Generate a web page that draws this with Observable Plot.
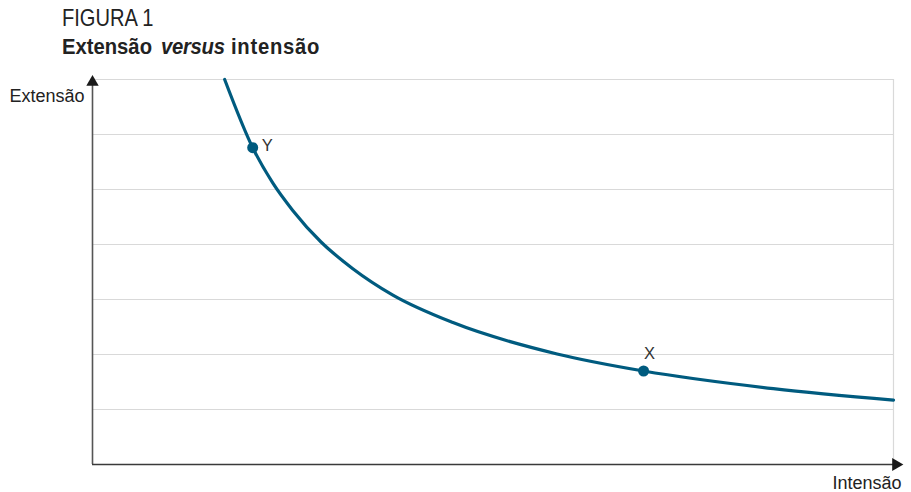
<!DOCTYPE html>
<html>
<head>
<meta charset="utf-8">
<script src="https://cdn.jsdelivr.net/npm/d3@7"></script>
<script src="https://cdn.jsdelivr.net/npm/@observablehq/plot@0.6"></script>
<style>
  body { margin: 0; background: #fff; font-family: "Liberation Sans", Arial, sans-serif; }
  #head { position: relative; width: 911px; height: 60px; }
  #fig { position: absolute; left: 62px; top: 6px; font-family: "Liberation Sans", Arial, sans-serif; font-size: 24.5px; line-height: 1; color: #222; white-space: nowrap; transform: scaleX(0.82); transform-origin: 0 0; }
  .sub { position: absolute; top: 36px; font-size: 22px; line-height: 1; font-weight: bold; color: #222; white-space: nowrap; transform: scaleX(0.92); transform-origin: 0 0; }
  #chart svg { display: block; overflow: visible; }
</style>
</head>
<body>
<div id="head">
  <div id="fig"></div>
  <span class="sub" id="s0" style="left:62px"></span>
  <span class="sub" id="s1" style="left:161px;font-style:italic;letter-spacing:-0.3px"></span>
  <span class="sub" id="s2" style="left:231px;letter-spacing:0.8px"></span>
</div>
<div id="chart"></div>
<script>
const figureLabel = "FIGURA 1";
const subtitleParts = ["Extensão", "versus", "intensão"];
const axisLabelY = "Extensão";
const axisLabelX = "Intensão";

// curve (x = intensão, y = extensão)
const curveX = [1.65, 2.00, 2.25, 2.50, 2.85, 3.25, 3.75, 4.50, 5.80, 6.88, 8.50, 10.0];
const curveY = [7.00, 5.76, 5.12, 4.62, 4.05, 3.56, 3.08, 2.58, 2.01, 1.70, 1.38, 1.17];

const pointNames = ["Y", "X"];
const pointX = [2.00, 6.88];
const pointY = [5.76, 1.70];

const gridY = [1, 2, 3, 4, 5, 6, 7];

document.getElementById("fig").textContent = figureLabel;
["s0", "s1", "s2"].forEach((id, i) => document.getElementById(id).textContent = subtitleParts[i]);

const curve = curveX.map((x, i) => ({x, y: curveY[i]}));
const points = pointNames.map((name, i) => ({name, x: pointX[i], y: pointY[i]}));
const lineColor = "#005b7f";

const chart = Plot.plot({
  width: 911,
  height: 432,
  marginTop: 19,
  marginBottom: 28,
  marginLeft: 92,
  marginRight: 18,
  x: {domain: [0, 10], axis: null},
  y: {domain: [0, 7], axis: null},
  style: {fontFamily: "'Liberation Sans', Arial, sans-serif", fontSize: "18px", color: "#222", overflow: "visible", background: "transparent"},
  marks: [
    Plot.ruleY(gridY, {y: d => d, x1: () => 0, x2: () => 10, stroke: "#d9d9d9", strokeWidth: 1.2, strokeOpacity: 1}),
    Plot.ruleX([10], {x: d => d, y1: () => 0, y2: () => 7, stroke: "#d9d9d9", strokeWidth: 1.2, strokeOpacity: 1}),
    Plot.ruleX([0], {x: d => d, y1: () => 0, y2: () => 7.0, stroke: "#555", strokeWidth: 1.6, strokeOpacity: 1}),
    Plot.ruleY([0], {y: d => d, x1: () => 0, x2: () => 10, stroke: "#3a3a3a", strokeWidth: 1.6, strokeOpacity: 1}),
    Plot.dot([{x: 0, y: 6.95}], {x: "x", y: "y", symbol: "triangle", r: 4.6, fill: "#1a1a1a", stroke: null}),
    Plot.dot([{x: 10.03, y: 0}], {x: "x", y: "y", symbol: "triangle", r: 4.8, rotate: 90, fill: "#1a1a1a", stroke: null}),
    Plot.line(curve, {x: "x", y: "y", stroke: lineColor, strokeWidth: 3.2, curve: "monotone-x"}),
    Plot.dot(points, {x: "x", y: "y", r: 5.5, fill: lineColor, stroke: null}),
    Plot.text(points.filter(d => d.name === "Y"), {x: "x", y: "y", text: "name", dx: 9, dy: -2, textAnchor: "start", fill: "#333", fontSize: 16.5}),
    Plot.text(points.filter(d => d.name === "X"), {x: "x", y: "y", text: "name", dx: 6, dy: -17, textAnchor: "middle", fill: "#333", fontSize: 16.5}),
    Plot.text([axisLabelY], {x: () => -0.1, y: () => 6.69, text: d => d, textAnchor: "end", fill: "#222", fontSize: 18}),
    Plot.text([axisLabelX], {x: () => 10.1, y: () => -0.345, text: d => d, textAnchor: "end", fill: "#222", fontSize: 18})
  ]
});
document.getElementById("chart").append(chart);
</script>
</body>
</html>
